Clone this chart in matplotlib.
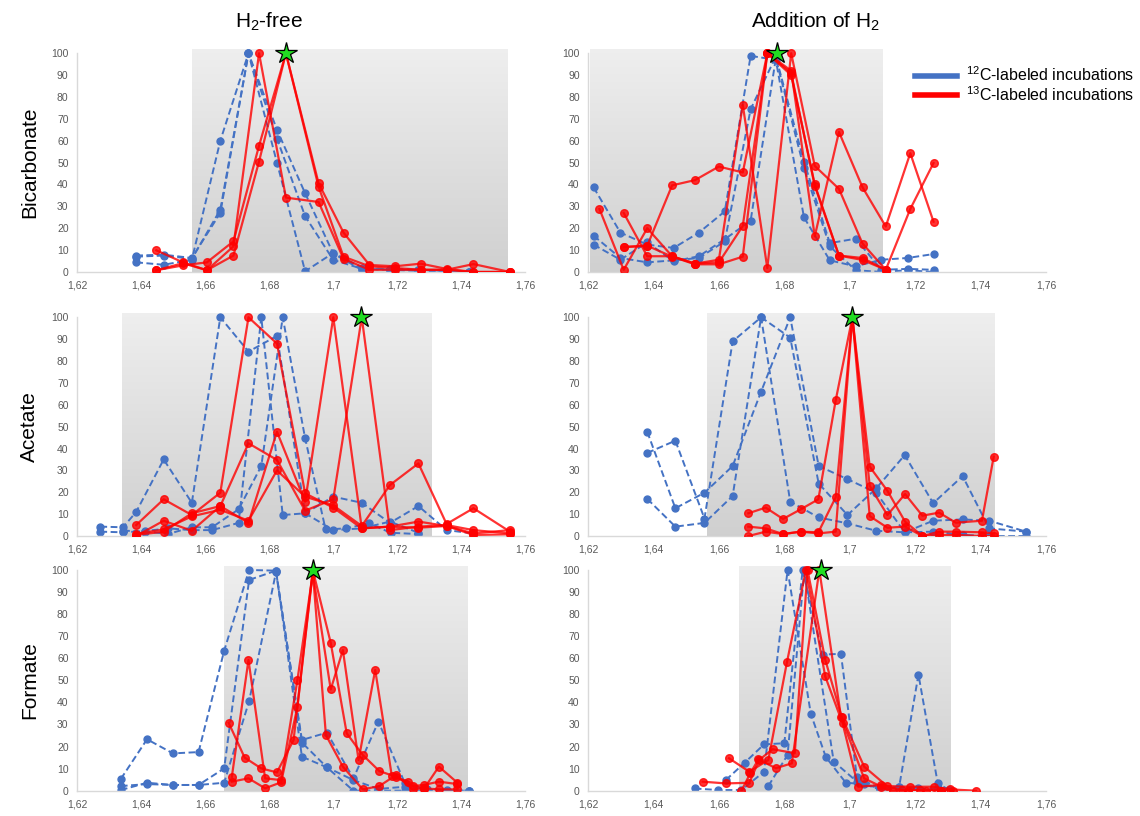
import numpy as np
import matplotlib
matplotlib.use("Agg")
import matplotlib.pyplot as plt
from matplotlib.lines import Line2D
from matplotlib.ticker import FuncFormatter, MultipleLocator

plt.rcParams['font.family'] = ['Liberation Sans', 'DejaVu Sans']
plt.rcParams['mathtext.fontset'] = 'custom'
plt.rcParams['mathtext.rm'] = 'Liberation Sans'
plt.rcParams['mathtext.it'] = 'Liberation Sans'

BLUE = '#4472C4'
RED = '#FF0000'

# ---------------- data (buoyant density, relative abundance %) ----------------
# Bicarbonate, H2-free
bic_free_x12 = [1.6385, 1.6471, 1.6559, 1.6648, 1.6736, 1.6825, 1.6913, 1.7001, 1.709, 1.7178, 1.7267, 1.7355, 1.7425]
bic_free_12a = [7.5, 7.9, 6.4, 27, 100, 65, 36, 8.4, 1, 1.5, 1, 0.5, 0]
bic_free_12b = [4.4, 3.3, 5.6, 60, 100, 50, 0.3, 8.7, 2, 1, 0.5, 0, 0]
bic_free_12c = [7, 7.5, 6, 28.5, 100, 61, 25.5, 5.5, 1.5, 1, 1, 0.5, 0]
bic_free_x13 = [1.6448, 1.6531, 1.6606, 1.6689, 1.6769, 1.6853, 1.6955, 1.7033, 1.7114, 1.7194, 1.7275, 1.7355, 1.7439, 1.7553]
bic_free_13a = [9.9, 4.4, 0.8, 11.7, 100, 34, 32, 6, 1, 1, 1, 1, 0, 0]
bic_free_13b = [0.8, 3, 4.4, 14, 57.7, 100, 40.6, 18, 3.2, 2.6, 3.8, 1.4, 0, 0]
bic_free_13c = [0.8, 4, 0.8, 7.5, 50.5, 100, 39, 7, 2.6, 1.8, 1, 1, 3.6, 0]

# Bicarbonate, addition of H2
bic_h2_x12 = [1.6217, 1.6299, 1.6381, 1.6462, 1.6539, 1.6618, 1.6697, 1.6774, 1.686, 1.6939, 1.7018, 1.7097, 1.7177, 1.7256]
bic_h2_12a = [38.7, 18, 12.5, 11, 18, 27.7, 98.8, 97, 25, 5.3, 2.6, 5.6, 6.4, 8.2]
bic_h2_12b = [16.6, 6.4, 4.4, 5.3, 6.4, 14, 74.4, 98.5, 50.5, 13.2, 15.2, 1, 1.4, 1]
bic_h2_12c = [12.5, 5.6, 13.5, 4.9, 7.2, 15, 23.4, 97.7, 47.5, 11.7, 0.8, 0, 0.8, 0]
bic_h2_x13 = [1.6235, 1.6309, 1.6381, 1.6457, 1.6527, 1.66, 1.6673, 1.6748, 1.6821, 1.6893, 1.6967, 1.7039, 1.711, 1.7185, 1.7256]
bic_h2_13a = [28.8, 1, 20, 7.2, 3.8, 4.4, 21, 100, 92, 16.3, 64, 38.7, 20.8, 54.3, 23]
bic_h2_13b = [None, 27, 7.2, 7.2, 3.8, 5.6, 76.4, 1.8, 100, 48.5, 38, 13, 1]
bic_h2_13c = [None, 11.4, 12, 39.6, 42, 48.2, 45.5, 100, 91, 39.4, 7.5, 6.4, 1, 28.8, 49.8]
bic_h2_13d = [None, 11.4, 12, 7, 3.5, 3.5, 7, 100, 90, 40, 7.5, 5.5, 1]

# Acetate, H2-free
ace_free_x12a = [1.6273, 1.6344, 1.6385, 1.6471, 1.6559, 1.6648, 1.6736, 1.6825, 1.6913, 1.7001, 1.709, 1.7178, 1.7267]
ace_free_12a = [4.3, 4, 11, 35, 15.2, 100, 84.3, 91.5, 10.4, 2.7, 3.5, 6.6, 1.5]
ace_free_x12b = [1.6273, 1.6344, 1.6413, 1.6486, 1.6559, 1.6622, 1.6705, 1.6776, 1.6843, 1.6913, 1.7001, 1.709, 1.7178, 1.7267, 1.7355, 1.7439]
ace_free_12b = [2, 1.7, 2.3, 3.5, 2.7, 2.7, 6, 100, 9.6, 10.4, 18, 15.2, 6, 13.7, 2.7, 1.2]
ace_free_x12c = [1.6344, 1.6413, 1.6486, 1.6559, 1.6622, 1.6705, 1.6776, 1.6843, 1.6913, 1.6977, 1.7041, 1.7113, 1.718, 1.7267]
ace_free_12c = [2.5, 2, 1, 4, 4, 12.2, 32, 100, 44.7, 3, 3.5, 5.8, 1.5, 0.9]
ace_free_x13 = [1.6385, 1.6471, 1.6559, 1.6648, 1.6736, 1.6825, 1.6913, 1.7001, 1.709, 1.7178, 1.7267, 1.7355, 1.7439, 1.7553]
ace_free_13a = [5, 16.8, 9.6, 19.8, 100, 88, 19.5, 13, 3.5, 4.3, 6.6, 4.6, 1.2, 2.7]
ace_free_13b = [0, 7, 2.4, 13.7, 6, 47.7, 15.7, 100, 3.5, 4.3, 3.8, 4.6, 0.5, 0.8]
ace_free_13c = [0.5, 2, 10.4, 13.7, 42.4, 34.8, 11.6, 16.8, 100, 2.7, 4.3, 5, 2.7, 1.2]
ace_free_13d = [1, 3, 9, 12, 7, 30, 18, 14, 4.6, 23.3, 33.2, 5.5, 12.7, 2]

# Acetate, addition of H2
ace_h2_x12 = [1.6381, 1.6467, 1.6556, 1.6642, 1.6729, 1.6818, 1.6905, 1.6993, 1.7081, 1.7168, 1.7255, 1.7345, 1.7426, 1.7539]
ace_h2_12a = [38, 43.6, 8, 89, 100, 15.7, 8.5, 5.8, 2.4, 1.7, 7, 7.6, 7, 2]
ace_h2_12b = [47.7, 12.7, 19.8, 32, 66, 100, 32, 26, 19.8, 1.7, 2, 0.5, 0, 0]
ace_h2_12c = [17, 4.3, 6, 18.3, 100, 90.7, 24, 9.6, 21.8, 37, 15, 27.4, 3.5, 2]
ace_h2_x13 = [1.669, 1.6743, 1.6796, 1.685, 1.6904, 1.6957, 1.7008, 1.7061, 1.7115, 1.7169, 1.7222, 1.7273, 1.7324, 1.7404, 1.744]
ace_h2_13a = [10.4, 13, 7.8, 12.2, 16.8, 62, 100, 22.9, 9.6, 19.2, 9.3, 10.7, 6.1, 7, 36.3]
ace_h2_13b = [4.3, 3.5, 0.9, 2, 1.7, 17.7, 100, 31.7, 20.7, 6.6, 0, 2, 2, 1.7, 1.2]
ace_h2_13c = [0, 2, 0.9, 2, 1.2, 2, 100, 9.1, 3.8, 4.3, 0, 0.5, 0.5, 0, 0]

# Formate, H2-free
for_free_x12 = [1.6337, 1.6419, 1.65, 1.658, 1.666, 1.6738, 1.6822, 1.6903, 1.6981, 1.7064, 1.7142, 1.7225, 1.7293, 1.7355, 1.7425]
for_free_12a = [5.3, 23.3, 16.9, 17.5, 63.4, 100, 99.7, 21.8, 10.6, 4.8, 0.8, 1.8, 0.8, 0.3, 0]
for_free_12b = [2.1, 3, 2.6, 2.6, 10.1, 95.5, 99.7, 15.4, 10.6, 0, 0, 0, 0, 0, 0]
for_free_12c = [0.3, 3.6, 2.6, 2.6, 3.6, 40.6, 99, 23, 26.3, 5.6, 31.3, 3.3, 0.5, 0, 0]
for_free_x13a = [1.6674, 1.6724, 1.6776, 1.6825, 1.6877, 1.6937, 1.6993, 1.7043, 1.7093, 1.7145, 1.7197, 1.7249, 1.7283, 1.7331, 1.7389]
for_free_13a = [30.8, 15, 10.1, 8.3, 23, 100, 67, 26, 16.2, 8.9, 6.3, 2.1, 2.6, 4.1, 3]
for_free_x13b = [1.6684, 1.6736, 1.6788, 1.6838, 1.6889, 1.6937, 1.6993, 1.7031, 1.708, 1.7132, 1.7184, 1.7236, 1.7283, 1.7331, 1.7389]
for_free_13b = [6.3, 59.2, 5.6, 4.8, 50.2, 98.5, 45.9, 63.7, 13.9, 54.7, 6.6, 4.1, 0.6, 10.9, 3.6]
for_free_x13c = [1.6684, 1.6736, 1.6788, 1.6838, 1.6889, 1.6937, 1.6978, 1.7031, 1.7093, 1.7145, 1.7197, 1.7249, 1.7283, 1.7331, 1.7389]
for_free_13c = [4.1, 5.6, 1.1, 3.8, 38, 99, 25.2, 10.9, 0.6, 2.1, 7.1, 0.6, 1.1, 0.6, 0.6]

# Formate, addition of H2
for_h2_x12a = [1.6526, 1.6598, 1.6669, 1.6738, 1.681, 1.6881, 1.6927, 1.6988, 1.7044, 1.7093, 1.7151, 1.721, 1.7269, 1.7304]
for_h2_12a = [1, 0.3, 0.3, 8.6, 100, 34.8, 15.2, 3.6, 3, 1, 1.5, 1, 1, 0.3]
for_h2_x12b = [1.6621, 1.6679, 1.6738, 1.68, 1.6856, 1.6917, 1.6973, 1.7022, 1.7093, 1.7151, 1.721, 1.7269, 1.7304]
for_h2_12b = [4.8, 12.7, 21, 21.5, 100, 61.7, 62, 6, 1, 1.8, 52.6, 3.3, 0.3]
for_h2_x12c = [1.6751, 1.681, 1.6861, 1.6951, 1.7022, 1.7093, 1.7151, 1.721, 1.7269]
for_h2_12c = [2.1, 16.2, 99.5, 13.2, 4.1, 0.5, 0.5, 0.5, 0.3]
for_h2_x13a = [1.655, 1.6621, 1.6693, 1.6723, 1.6764, 1.6832, 1.6871, 1.6925, 1.6975, 1.7044, 1.7114, 1.7185, 1.7256, 1.7307, 1.7386]
for_h2_13a = [4.1, 3.3, 3.6, 13.9, 18.8, 17, 100, 59.4, 33.6, 10.9, 2.1, 1.8, 1.8, 0.6, 0]
for_h2_x13b = [1.6631, 1.6693, 1.6751, 1.6808, 1.6866, 1.6925, 1.6978, 1.7026, 1.7097, 1.716, 1.7216, 1.7279]
for_h2_13b = [14.7, 8.6, 13.9, 58.2, 100, 51.8, 30.6, 1.8, 2.6, 0.3, 0.3, 0]
for_h2_x13c = [1.6669, 1.6696, 1.6721, 1.6774, 1.6823, 1.6907, 1.6973, 1.7044, 1.7097, 1.7131, 1.7179, 1.7233, 1.728, 1.7316]
for_h2_13c = [0, 7.9, 14.2, 10.2, 12.4, 100, 33.6, 5.6, 1.8, 0, 0, 0, 0, 0]

# heavy-fraction windows (shaded) and star positions
shade_ranges = [(1.6558, 1.7543), (1.6205, 1.7098),
                (1.634, 1.7308), (1.6565, 1.7445),
                (1.6658, 1.742), (1.666, 1.7306)]
star_x = [1.6853, 1.6779, 1.7087, 1.7008, 1.6939, 1.6912]

row_names = ['Bicarbonate', 'Acetate', 'Formate']
col_names = ['H$_2$-free', 'Addition of H$_2$']


def pair(x, y):
    # drop leading None values (series starting later than the shared grid)
    pts = [(a, b) for a, b in zip(x, y) if b is not None]
    return [p[0] for p in pts], [p[1] for p in pts]


panels = [
    ([(bic_free_x12, bic_free_12a), (bic_free_x12, bic_free_12b), (bic_free_x12, bic_free_12c)],
     [(bic_free_x13, bic_free_13a), (bic_free_x13, bic_free_13b), (bic_free_x13, bic_free_13c)]),
    ([(bic_h2_x12, bic_h2_12a), (bic_h2_x12, bic_h2_12b), (bic_h2_x12, bic_h2_12c)],
     [(bic_h2_x13, bic_h2_13a), (bic_h2_x13, bic_h2_13b), (bic_h2_x13, bic_h2_13c), (bic_h2_x13, bic_h2_13d)]),
    ([(ace_free_x12a, ace_free_12a), (ace_free_x12b, ace_free_12b), (ace_free_x12c, ace_free_12c)],
     [(ace_free_x13, ace_free_13a), (ace_free_x13, ace_free_13b), (ace_free_x13, ace_free_13c), (ace_free_x13, ace_free_13d)]),
    ([(ace_h2_x12, ace_h2_12a), (ace_h2_x12, ace_h2_12b), (ace_h2_x12, ace_h2_12c)],
     [(ace_h2_x13, ace_h2_13a), (ace_h2_x13, ace_h2_13b), (ace_h2_x13, ace_h2_13c)]),
    ([(for_free_x12, for_free_12a), (for_free_x12, for_free_12b), (for_free_x12, for_free_12c)],
     [(for_free_x13a, for_free_13a), (for_free_x13b, for_free_13b), (for_free_x13c, for_free_13c)]),
    ([(for_h2_x12a, for_h2_12a), (for_h2_x12b, for_h2_12b), (for_h2_x12c, for_h2_12c)],
     [(for_h2_x13a, for_h2_13a), (for_h2_x13b, for_h2_13b), (for_h2_x13c, for_h2_13c)]),
]

# axes placement (figure fractions)
col_left = [0.0675, 0.5158]
col_width = [0.393, 0.4018]
row_bottom = [0.6667, 0.3431, 0.031]
row_height = [0.2734, 0.2734, 0.2759]

fig = plt.figure(figsize=(11.4, 8.16), dpi=100)

# grey gradient image for the shaded windows
grad = np.linspace(0.935, 0.815, 256).reshape(-1, 1)
grad = np.repeat(grad[:, :, None], 3, axis=2)

for i, (blues, reds) in enumerate(panels):
    r, c = divmod(i, 2)
    ax = fig.add_axes([col_left[c], row_bottom[r], col_width[c], row_height[r]])
    ax.set_xlim(1.62, 1.76)
    ax.set_ylim(0, 102)

    x0, x1 = shade_ranges[i]
    ax.imshow(grad, extent=[x0, x1, 0, 101.5], aspect='auto', origin='upper',
              zorder=0, interpolation='bilinear')

    for x, y in blues:
        xs, ys = pair(x, y)
        ax.plot(xs, ys, color=BLUE, linestyle=(0, (3.5, 1.8)), linewidth=1.4,
                marker='o', markersize=5, zorder=2)
    for x, y in reds:
        xs, ys = pair(x, y)
        ax.plot(xs, ys, color=RED, alpha=0.8, linewidth=1.6,
                marker='o', markersize=5.5, zorder=3)

    ax.plot([star_x[i]], [100], marker='*', markersize=16, color='#22DD22',
            markeredgecolor='black', markeredgewidth=0.9, zorder=6, clip_on=False)

    ax.xaxis.set_major_locator(MultipleLocator(0.02))
    ax.set_yticks(np.arange(0, 101, 10))
    ax.xaxis.set_major_formatter(FuncFormatter(lambda v, p: f"{v:.2f}".rstrip('0').replace('.', ',')))
    ax.tick_params(length=0, labelsize=7.5, colors='#595959', pad=6)
    for s in ['top', 'right']:
        ax.spines[s].set_visible(False)
    ax.spines['left'].set_bounds(0, 100)
    for s in ['left', 'bottom']:
        ax.spines[s].set_color('#d9d9d9')
        ax.spines[s].set_linewidth(1.0)
    ax.set_facecolor('none')

# column and row titles
fig.text(0.236, 0.973, col_names[0], fontsize=15, ha='center', va='center')
fig.text(0.715, 0.973, col_names[1], fontsize=15, ha='center', va='center')
for r, name in enumerate(row_names):
    fig.text(0.026, row_bottom[r] + row_height[r] * 0.49, name, fontsize=15,
             rotation=90, ha='center', va='center')

handles = [Line2D([], [], color=BLUE, linewidth=4),
           Line2D([], [], color=RED, linewidth=4)]
fig.legend(handles, ['$^{12}$C-labeled incubations', '$^{13}$C-labeled incubations'],
           loc='upper left', bbox_to_anchor=(0.79, 0.937), frameon=False,
           fontsize=11.5, handlelength=2.6, handletextpad=0.6, labelspacing=0.05)

fig.savefig('out.png', dpi=100)
